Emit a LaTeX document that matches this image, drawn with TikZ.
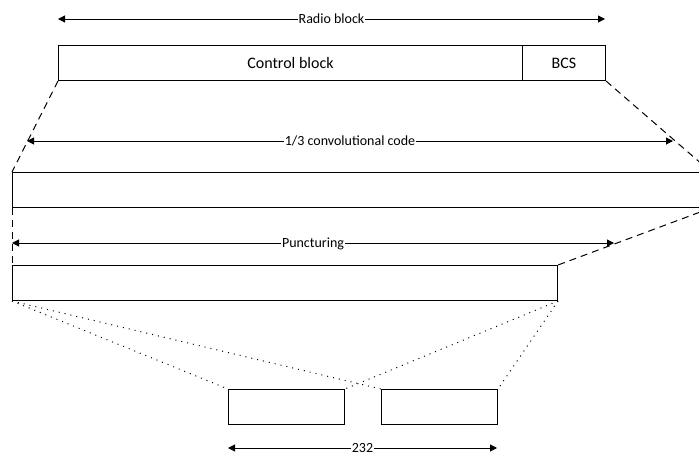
\documentclass[tikz,border=0pt]{standalone}
\usepackage{fontspec}
\setmainfont{Carlito}
\usetikzlibrary{arrows.meta}
\begin{document}
\begin{tikzpicture}[x=1pt,y=-1pt,
  box/.style={draw, line width=1pt, inner sep=0pt, anchor=north west, font=\fontsize{16}{18}\selectfont},
  dimarrow/.style={line width=1pt, {Triangle[length=7pt,width=7pt]}-{Triangle[length=7pt,width=7pt]}},
  lbl/.style={fill=white, inner xsep=1pt, inner ysep=0pt, text depth=0pt, font=\fontsize{14}{16}\selectfont},
  dashline/.style={line width=1pt, dash pattern=on 7pt off 5pt},
  dotline/.style={line width=1pt, dash pattern=on 1pt off 5pt}]
\useasboundingbox (0,0) rectangle (699,455);
% boxes
\node[box, minimum width=464pt, minimum height=35pt] (cb) at (58,45) {Control block};
\node[box, minimum width=83pt, minimum height=35pt] (bcs) at (522,45) {BCS};
\node[box, minimum width=698pt, minimum height=35pt] (cc) at (12,172) {};
\node[box, minimum width=545pt, minimum height=35pt] (pc) at (12,265) {};
\node[box, minimum width=116pt, minimum height=35pt] (s1) at (228,389) {};
\node[box, minimum width=116pt, minimum height=35pt] (s2) at (381,389) {};
% dimension arrows
\coordinate (r1) at (58,19); \coordinate (r2) at (605,19);
\coordinate (c1) at (27,141); \coordinate (c2) at (673,141);
\coordinate (p1) at (12,243); \coordinate (p2) at (614,243);
\coordinate (b1) at (228,448); \coordinate (b2) at (497,448);
\draw[dimarrow] (r1) -- node[lbl]{Radio block} (r2);
\draw[dimarrow] (c1) -- node[lbl]{1/3 convolutional code} (c2);
\draw[dimarrow] (p1) -- node[lbl]{Puncturing} (p2);
\draw[dimarrow] (b1) -- node[lbl]{232} (b2);
% dashed expansion lines
\draw[dashline] (cb.south west) -- (cc.north west);
\draw[dashline] (bcs.south east) -- (cc.north east);
\draw[dashline] (cc.south west) -- (pc.north west);
\draw[dashline] (cc.south east) -- (pc.north east);
% dotted lines
\draw[dotline] (pc.south west) -- (s1.north west);
\draw[dotline] (pc.south west) -- (s2.north west);
\draw[dotline] (pc.south east) -- (s1.north east);
\draw[dotline] (pc.south east) -- (s2.north east);
\end{tikzpicture}
\end{document}
